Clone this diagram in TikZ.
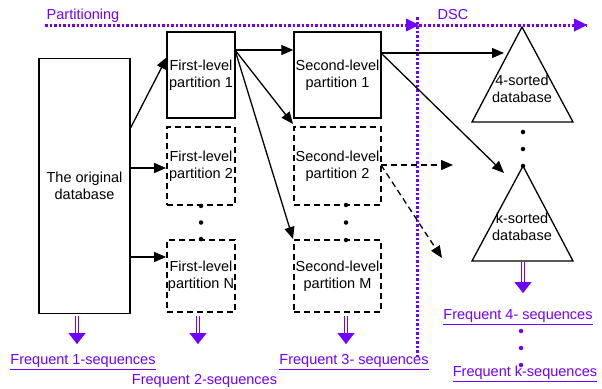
\documentclass[tikz,border=0pt]{standalone}
\usepackage{fontspec}
\setmainfont{Liberation Sans}
\usetikzlibrary{arrows.meta}
\definecolor{vio}{RGB}{112,0,255}
\begin{document}
\begin{tikzpicture}[x=1pt,y=-1pt,
  txt/.style={font=\fontsize{14.5}{17}\selectfont, align=center, inner sep=0pt},
  sbox/.style={draw, line width=1.4pt, minimum width=#1, inner sep=0pt},
  dbox/.style={draw, line width=1.8pt, dash pattern=on 6pt off 4pt, inner sep=0pt},
  arr/.style={line width=1.3pt, -{Triangle[length=12pt,width=10pt]}},
  darr/.style={arr, dash pattern=on 6pt off 4pt},
  pdot/.style={draw=vio, line width=3pt, dash pattern=on 2.5pt off 2pt},
  ptip/.style={-{Triangle[length=12pt,width=13pt,fill=vio]}},
  parr/.style={draw=vio, line width=0.9pt, double=white, double distance=2pt, -{Triangle[length=11pt,width=17pt,fill=vio,line width=0.1pt]}},
  flab/.style={txt, text=vio},
  bdot/.style={circle, fill=black, inner sep=0pt, minimum size=4.5pt},
  vdot/.style={circle, fill=vio, inner sep=0pt, minimum size=4.5pt}
]
\useasboundingbox (0,0) rectangle (602,388);

% purple dotted lines
\coordinate (hstart) at (45,25);
\coordinate (hmid) at (419,25);
\coordinate (hend) at (587,25);
\coordinate (vtop) at (417,17);
\coordinate (vbot) at (417,358);
\draw[pdot] (hstart) -- (hmid);
\draw[pdot] (hmid) -- (hend);
\fill[vio] (hmid) -- ++(-13,-6.5) -- ++(0,13) -- cycle;
\fill[vio] (hend) -- ++(-13,-6.5) -- ++(0,13) -- cycle;
\draw[pdot] (vtop) -- (vbot);
\node[flab, text=vio] (lpart) at (83,16) {Partitioning};
\node[flab, text=vio] (ldsc) at (453,15) {DSC};

% original database
\node[draw, line width=1.4pt, minimum width=91pt, minimum height=255pt, txt] (orig) at (84.5,186) {The original\\database};

% first level
\node[draw, line width=1.4pt, minimum width=68pt, minimum height=86pt, txt] (f1) at (201,75) {First-level\\partition 1};
\node[dbox, minimum width=68pt, minimum height=78pt, txt] (f2) at (201,166) {First-level\\partition 2};
\node[dbox, minimum width=68pt, minimum height=72pt, txt] (fn) at (201,276) {First-level\\partition N};
\node[bdot] (fd1) at (f2.south) {};
\node[bdot] (fd2) at (201,222.5) {};
\node[bdot] (fd3) at (fn.north) {};

% second level
\node[draw, line width=1.4pt, minimum width=87pt, minimum height=86pt, txt] (s1) at (337.5,75) {Second-level\\partition 1};
\node[dbox, minimum width=87pt, minimum height=78pt, txt] (s2) at (337.5,166) {Second-level\\partition 2};
\node[dbox, minimum width=87pt, minimum height=72pt, txt] (sm) at (337.5,276) {Second-level\\partition M};
\node[bdot] (sd1) at (346,205) {};
\node[bdot] (sd2) at (346,222.5) {};
\node[bdot] (sd3) at (346,240) {};

% triangles
\coordinate (t4a) at (522,27);
\coordinate (t4l) at (472,122);
\coordinate (t4r) at (573,122);
\draw[line width=1.3pt, line join=miter] (t4a) -- (t4r) -- (t4l) -- cycle;
\node[txt] (t4) at (522,89) {4-sorted\\database};
\coordinate (tka) at (523,166);
\coordinate (tkl) at (472,261);
\coordinate (tkr) at (573,261);
\draw[line width=1.3pt, line join=miter] (tka) -- (tkr) -- (tkl) -- cycle;
\node[txt] (tk) at (522,227) {k-sorted\\database};
\node[bdot] (td1) at (523,132) {};
\node[bdot] (td2) at (523,149) {};
\node[bdot] (td3) at (tka) {};

% black arrows
\coordinate (o1) at (130,129);
\coordinate (o2) at (130,168);
\coordinate (o3) at (130,257);
\draw[arr] (o1) -- (167,57);
\draw[arr] (o2) -- (o2 -| f2.west);
\draw[arr] (o3) -- (o3 -| fn.west);
\coordinate (f1o) at (235,50);
\draw[arr] (f1o) -- (f1o -| s1.west);
\draw[arr] (f1o) -- (293,124);
\draw[arr] (f1o) -- (293,239);
\coordinate (s1o) at (381,53);
\coordinate (t4in) at (504,53);
\coordinate (tkin) at (504,173);
\draw[arr] (s1o) -- (t4in);
\draw[arr] (s1o) -- (tkin);
\coordinate (s2o) at (381,165);
\coordinate (d1) at (453,165);
\coordinate (d2) at (442,258);
\draw[darr] (s2o) -- (d1);
\draw[darr] (s2o) -- (d2);

% purple outputs
\draw[parr] (77,316) -- (77,344);
\draw[parr] (198,316) -- (198,344);
\draw[parr] (346,316) -- (346,344);
\draw[parr] (523,262) -- (523,293);

\node[flab] (q1) at (83,362) {\underline{Frequent 1-sequences}};
\node[flab] (q2) at (204.5,382) {\underline{Frequent 2-sequences}};
\node[flab] (q3) at (354,362) {\underline{Frequent 3- sequences}};
\node[flab] (q4) at (518,317) {\underline{Frequent 4- sequences}};
\node[flab] (qk) at (525,374) {\underline{Frequent k-sequences}};
\node[vdot] (v1) at (521,331) {};
\node[vdot] (v2) at (521,348) {};
\node[vdot] (v3) at (521,365) {};
\end{tikzpicture}
\end{document}
